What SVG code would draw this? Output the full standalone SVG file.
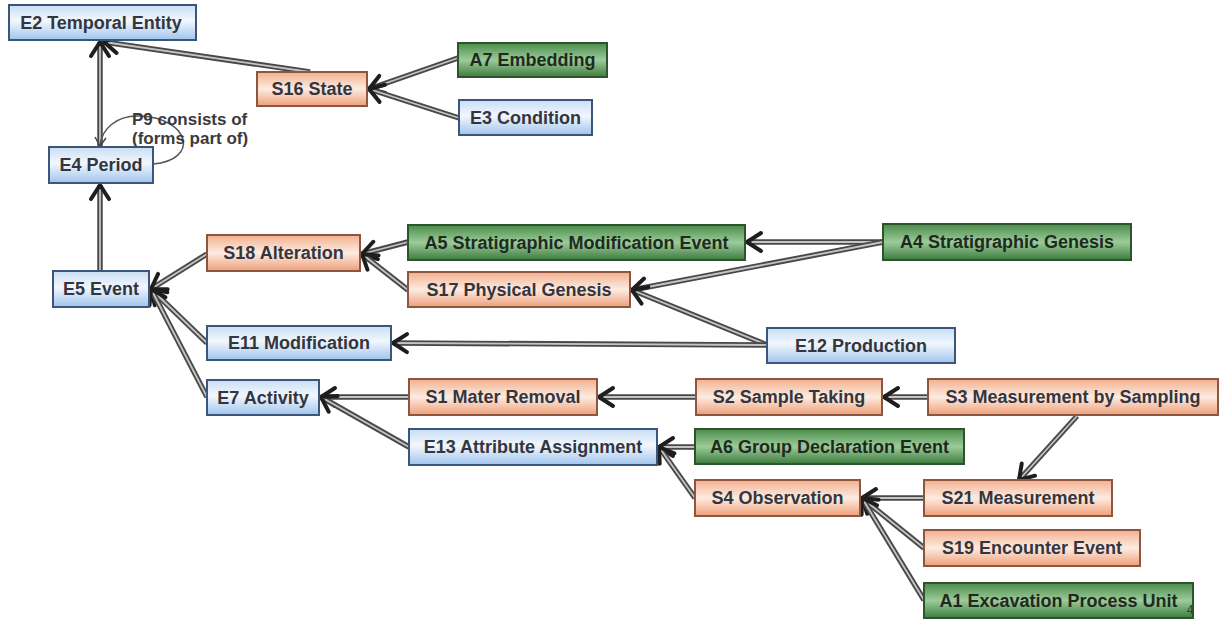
<svg xmlns="http://www.w3.org/2000/svg" width="1225" height="619" viewBox="0 0 1225 619">
<defs>
<linearGradient id="gb" x1="0" y1="0" x2="0" y2="1"><stop offset="0" stop-color="#c9def4"/><stop offset="0.45" stop-color="#f2f7fd"/><stop offset="1" stop-color="#9fc4ec"/></linearGradient>
<linearGradient id="go" x1="0" y1="0" x2="0" y2="1"><stop offset="0" stop-color="#f2b08e"/><stop offset="0.5" stop-color="#fdebe1"/><stop offset="1" stop-color="#ee9f78"/></linearGradient>
<linearGradient id="gg" x1="0" y1="0" x2="0" y2="1"><stop offset="0" stop-color="#4a8c4a"/><stop offset="0.5" stop-color="#9ccb9a"/><stop offset="1" stop-color="#3e7c3e"/></linearGradient>
<marker id="ah" markerUnits="userSpaceOnUse" markerWidth="30" markerHeight="30" refX="0" refY="0" viewBox="-16 -15 30 30" orient="auto" overflow="visible">
<path d="M-14,-9 L0,0 L-14,9" fill="none" stroke="#1e1e1e" stroke-width="4" stroke-linejoin="round" stroke-linecap="round"/>
</marker>
</defs>
<style>
.b rect{fill:url(#gb);stroke:#3b5679;stroke-width:2}
.o rect{fill:url(#go);stroke:#8c5640;stroke-width:2}
.g rect{fill:url(#gg);stroke:#2d552d;stroke-width:2}
text{font-family:"Liberation Sans",Arial,sans-serif;font-weight:bold;font-size:18px;fill:#33363f;text-anchor:middle}
.g text{fill:#1f2a1f}
.co path{fill:none}
.co .out{stroke:#484848;stroke-width:5.5}
.co .in{stroke:#c4c4c4;stroke-width:1.8;marker-end:url(#ah)}
.lbl{font-size:17px;text-anchor:start;fill:#3a3a3a}
</style>
<g id="connectors" class="co">
<path class="out" d="M310,72 L104,42"/><path class="in" d="M310,72 L104,42"/>
<path class="out" d="M100,147 L100,42"/><path class="in" d="M100,147 L100,42"/>
<path class="out" d="M100,271 L100,185"/><path class="in" d="M100,271 L100,185"/>
<path class="out" d="M458,58 L369,89"/><path class="in" d="M458,58 L369,89"/>
<path class="out" d="M459,118 L369,89"/><path class="in" d="M459,118 L369,89"/>
<path class="out" d="M207,254 L151,289"/><path class="in" d="M207,254 L151,289"/>
<path class="out" d="M207,343 L151,289"/><path class="in" d="M207,343 L151,289"/>
<path class="out" d="M207,397 L151,289"/><path class="in" d="M207,397 L151,289"/>
<path class="out" d="M408,242 L362,254"/><path class="in" d="M408,242 L362,254"/>
<path class="out" d="M408,290 L362,254"/><path class="in" d="M408,290 L362,254"/>
<path class="out" d="M883,242 L747,242"/><path class="in" d="M883,242 L747,242"/>
<path class="out" d="M883,242 L632,290"/><path class="in" d="M883,242 L632,290"/>
<path class="out" d="M767,345 L632,290"/><path class="in" d="M767,345 L632,290"/>
<path class="out" d="M767,345 L393,343"/><path class="in" d="M767,345 L393,343"/>
<path class="out" d="M409,397 L321,397"/><path class="in" d="M409,397 L321,397"/>
<path class="out" d="M409,447 L321,397"/><path class="in" d="M409,447 L321,397"/>
<path class="out" d="M696,397 L599,397"/><path class="in" d="M696,397 L599,397"/>
<path class="out" d="M928,397 L884,397"/><path class="in" d="M928,397 L884,397"/>
<path class="out" d="M695,447 L659,447"/><path class="in" d="M695,447 L659,447"/>
<path class="out" d="M695,498 L659,447"/><path class="in" d="M695,498 L659,447"/>
<path class="out" d="M1077,416 L1019,480"/><path class="in" d="M1077,416 L1019,480"/>
<path class="out" d="M924,498 L862,498"/><path class="in" d="M924,498 L862,498"/>
<path class="out" d="M924,548 L862,498"/><path class="in" d="M924,548 L862,498"/>
<path class="out" d="M924,600 L862,498"/><path class="in" d="M924,600 L862,498"/>
<g id="loop">
<path d="M153,164 C200,160 190,118 140,116 C115,115 102,130 100,145" fill="none" stroke="#555" stroke-width="1.5"/>
<path d="M95,137 L100,146 L106,138" fill="none" stroke="#444" stroke-width="1.5"/>
<text class="lbl" x="132" y="125">P9 consists of</text>
<text class="lbl" x="132" y="144">(forms part of)</text>
</g>
</g>
<g id="E2" class="b"><rect x="9" y="5" width="187" height="35"/><text x="101" y="29">E2 Temporal Entity</text></g>
<g id="S16" class="o"><rect x="257" y="72" width="110" height="34"/><text x="312" y="95">S16 State</text></g>
<g id="A7" class="g"><rect x="458" y="43" width="149" height="34"/><text x="532.5" y="66">A7 Embedding</text></g>
<g id="E3" class="b"><rect x="459" y="100" width="133" height="35"/><text x="525.5" y="124">E3 Condition</text></g>
<g id="E4" class="b"><rect x="49" y="147" width="104" height="36"/><text x="101" y="171">E4 Period</text></g>
<g id="E5" class="b"><rect x="53" y="271" width="96" height="36"/><text x="101" y="295">E5 Event</text></g>
<g id="S18" class="o"><rect x="207" y="235" width="153" height="36"/><text x="283.5" y="259">S18 Alteration</text></g>
<g id="E11" class="b"><rect x="207" y="326" width="184" height="34"/><text x="299" y="349">E11 Modification</text></g>
<g id="E7" class="b"><rect x="207" y="380" width="112" height="35"/><text x="263" y="404">E7 Activity</text></g>
<g id="A5" class="g"><rect x="408" y="225" width="337" height="35"/><text x="576.5" y="249">A5  Stratigraphic Modification Event</text></g>
<g id="S17" class="o"><rect x="408" y="272" width="222" height="35"/><text x="519" y="296">S17 Physical Genesis</text></g>
<g id="E12" class="b"><rect x="767" y="328" width="188" height="35"/><text x="861" y="352">E12 Production</text></g>
<g id="A4" class="g"><rect x="883" y="224" width="248" height="36"/><text x="1007" y="248">A4  Stratigraphic Genesis</text></g>
<g id="S3" class="o"><rect x="928" y="379" width="290" height="36"/><text x="1073" y="403">S3 Measurement by Sampling</text></g>
<g id="S2" class="o"><rect x="696" y="379" width="186" height="36"/><text x="789" y="403">S2 Sample Taking</text></g>
<g id="S1" class="o"><rect x="409" y="379" width="188" height="36"/><text x="503" y="403">S1 Mater Removal</text></g>
<g id="E13" class="b"><rect x="409" y="429" width="248" height="36"/><text x="533" y="453">E13 Attribute Assignment</text></g>
<g id="A6" class="g"><rect x="695" y="429" width="269" height="35"/><text x="829.5" y="453">A6 Group Declaration Event</text></g>
<g id="S4" class="o"><rect x="695" y="480" width="165" height="36"/><text x="777.5" y="504">S4 Observation</text></g>
<g id="S21" class="o"><rect x="924" y="480" width="188" height="36"/><text x="1018" y="504">S21 Measurement</text></g>
<g id="S19" class="o"><rect x="924" y="530" width="216" height="36"/><text x="1032" y="554">S19 Encounter Event</text></g>
<g id="A1" class="g"><rect x="924" y="583" width="269" height="35"/><text x="1058.5" y="607">A1 Excavation Process Unit</text></g>
<text x="1190" y="614" style="font-size:12px;font-weight:normal">4</text>
</svg>
